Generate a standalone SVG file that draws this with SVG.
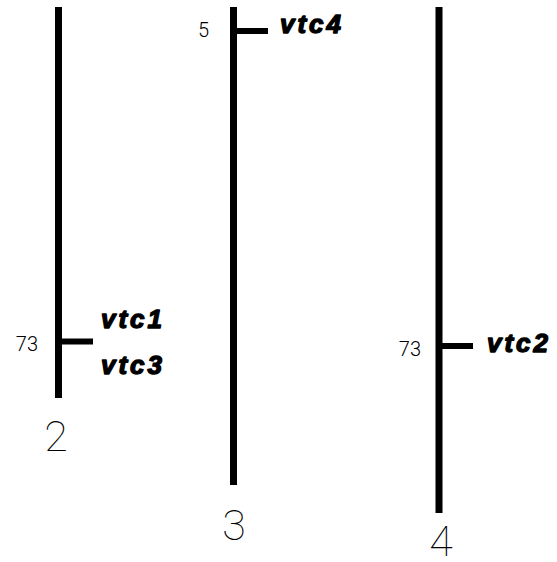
<svg xmlns="http://www.w3.org/2000/svg" width="557" height="562" viewBox="0 0 557 562">
  <style>
    .bar { stroke: #000; stroke-width: 7; fill: none; }
    .tick { stroke: #000; stroke-width: 6; fill: none; }
    .gene { font-family: "Liberation Sans", Arial, sans-serif; font-weight: bold; font-style: italic; font-size: 26px; letter-spacing: 3px; fill: #000; stroke: #000; stroke-width: 1.4; stroke-linejoin: round; }
    .pos { font-family: Roboto, "DejaVu Sans", sans-serif; font-weight: 300; font-size: 20px; fill: #000; text-anchor: end; }
    .chr { font-family: Roboto, "DejaVu Sans", sans-serif; font-weight: 100; font-size: 43px; fill: #000; text-anchor: middle; }
  </style>
  <rect width="557" height="562" fill="#fff"/>

  <!-- chromosome 2 -->
  <g id="chr2">
    <line class="bar" x1="58.5" y1="7" x2="58.5" y2="398"/>
    <line class="tick" x1="58.5" y1="341.5" x2="93" y2="341.5"/>
    <text class="pos" x="38" y="351">73</text>
    <text class="gene" x="101" y="328">vtc1</text>
    <text class="gene" x="101" y="374">vtc3</text>
    <text class="chr" x="56" y="451">2</text>
  </g>

  <!-- chromosome 3 -->
  <g id="chr3">
    <line class="bar" x1="233.5" y1="7" x2="233.5" y2="485"/>
    <line class="tick" x1="233.5" y1="31" x2="268" y2="31"/>
    <text class="pos" x="209" y="37">5</text>
    <text class="gene" x="280" y="33">vtc4</text>
    <text class="chr" x="234" y="540">3</text>
  </g>

  <!-- chromosome 4 -->
  <g id="chr4">
    <line class="bar" x1="439" y1="7" x2="439" y2="513"/>
    <line class="tick" x1="439" y1="346" x2="473" y2="346"/>
    <text class="pos" x="421" y="356">73</text>
    <text class="gene" x="487" y="352">vtc2</text>
    <text class="chr" x="441" y="556" font-size="41">4</text>
  </g>
</svg>
